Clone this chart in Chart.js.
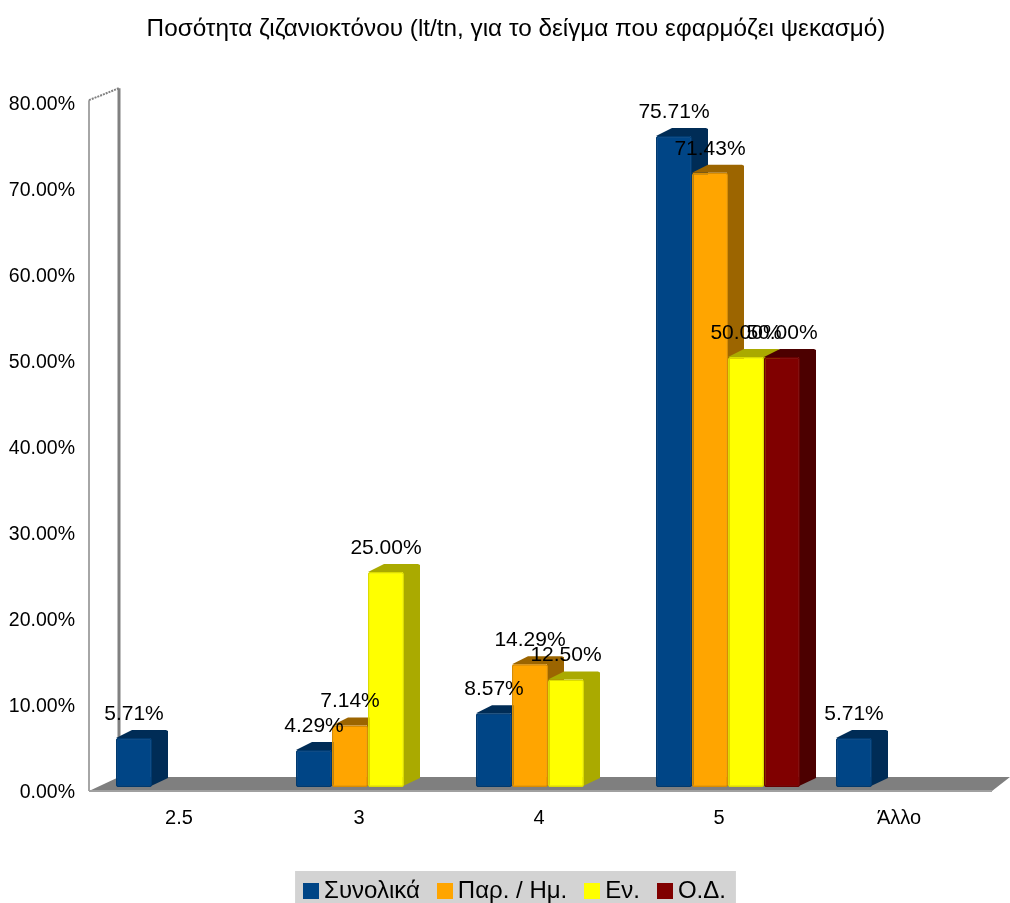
<!DOCTYPE html>
<html><head><meta charset="utf-8">
<style>html,body{margin:0;padding:0;background:#fff;overflow:hidden}canvas{display:block}</style>
<script src="https://cdn.jsdelivr.net/npm/chart.js@4/dist/chart.umd.min.js"></script>
</head><body><canvas id="c" width="1010" height="903"></canvas>
<script>
const chartTitle = "Ποσότητα ζιζανιοκτόνου (lt/tn, για το δείγμα που εφαρμόζει ψεκασμό)";
const categories = ["2.5", "3", "4", "5", "Άλλο"];
const seriesNames = ["Συνολικά", "Παρ. / Ημ.", "Εν.", "Ο.Δ."];
const synolika = [5.71, 4.29, 8.57, 75.71, 5.71];
const parIm = [null, 7.14, 14.29, 71.43, null];
const en = [null, 25.00, 12.50, 50.00, null];
const od = [null, null, null, 50.00, null];
const frontColors = ["#004586", "#ffa500", "#ffff00", "#800000"];
const edgeColors = ["#003a70", "#d98c00", "#dcdc00", "#6a0000"];
const sideColors = ["#002c56", "#9c6500", "#aaaa00", "#4c0000"];
const depthX = 16, depthY = 8;
const legendShift = 19, titleShift = 17;
const fontName = '"Liberation Sans", Arial, sans-serif';

function legendSwatch(color) {
  const s = document.createElement('canvas');
  s.width = 16; s.height = 16;
  const g = s.getContext('2d');
  g.fillStyle = color; g.fillRect(0, 0, 16, 16);
  return s;
}

const scene3d = {
  id: 'scene3d',
  afterLayout(chart) {
    const lg = chart.legend, tb = chart.titleBlock;
    lg.left += legendShift; lg.right += legendShift;
    lg.legendHitBoxes.forEach(h => { h.left += legendShift; });
    tb.left += titleShift; tb.right += titleShift;
  },
  beforeDraw(chart) {
    const lg = chart.legend, hb = lg.legendHitBoxes, ctx = chart.ctx;
    const last = hb[hb.length - 1];
    const l = hb[0].left - 15, r = last.left + last.width + 10;
    ctx.save();
    ctx.fillStyle = '#d3d3d3';
    ctx.fillRect(l, 871, r - l, 32);
    ctx.restore();
  },
  beforeDatasetsDraw(chart) {
    const ctx = chart.ctx, a = chart.chartArea;
    const fl = a.left - 9, fr = a.right - 6, fy = chart.scales.y.getPixelForValue(0) + 4;
    const wallTop = chart.scales.y.getPixelForValue(80) + 1;
    const bx = 30, by = 14;
    ctx.save();
    ctx.strokeStyle = '#a6a6a6'; ctx.lineWidth = 2;
    ctx.beginPath(); ctx.moveTo(fl, fy); ctx.lineTo(fl, wallTop); ctx.stroke();
    ctx.setLineDash([2, 1]);
    ctx.strokeStyle = '#808080';
    ctx.beginPath(); ctx.moveTo(fl, wallTop); ctx.lineTo(fl + bx, wallTop - 12); ctx.stroke();
    ctx.setLineDash([]);
    ctx.lineWidth = 3;
    ctx.beginPath(); ctx.moveTo(fl + bx, wallTop - 12); ctx.lineTo(fl + bx, fy - by); ctx.stroke();
    ctx.fillStyle = '#7f7f7f';
    ctx.beginPath();
    ctx.moveTo(fl, fy); ctx.lineTo(fl + bx, fy - by); ctx.lineTo(1010, fy - by); ctx.lineTo(fr, fy);
    ctx.closePath(); ctx.fill();
    ctx.strokeStyle = '#a0a0a0'; ctx.lineWidth = 2;
    ctx.beginPath(); ctx.moveTo(fl, fy); ctx.lineTo(fr, fy); ctx.stroke();
    ctx.restore();
  },
  afterDatasetsDraw(chart) {
    const ctx = chart.ctx;
    chart.data.datasets.forEach((ds, di) => {
      const meta = chart.getDatasetMeta(di);
      meta.data.forEach((el, i) => {
        if (ds.data[i] == null) return;
        const p = el.getProps(['x', 'y', 'base', 'width'], true);
        const l = p.x - p.width / 2, r = p.x + p.width / 2, t = p.y, b = p.base;
        ctx.save();
        ctx.fillStyle = sideColors[di];
        ctx.beginPath();
        ctx.moveTo(r - 1, b - 1); ctx.lineTo(r + depthX, b - depthY - 1);
        ctx.lineTo(r + depthX, t - depthY + 1); ctx.lineTo(r + depthX - 2, t - depthY);
        ctx.lineTo(l + depthX, t - depthY); ctx.lineTo(l, t);
        ctx.lineTo(r - 1, t); ctx.closePath(); ctx.fill();
        ctx.restore();
        el.draw(ctx);
      });
    });
    ctx.save();
    ctx.font = '21px ' + fontName;
    ctx.fillStyle = '#000';
    ctx.textAlign = 'center'; ctx.textBaseline = 'middle';
    chart.data.datasets.forEach((ds, di) => {
      chart.getDatasetMeta(di).data.forEach((el, i) => {
        if (ds.data[i] == null) return;
        const p = el.getProps(['x', 'y'], true);
        ctx.fillText(ds.data[i].toFixed(2) + '%', p.x, p.y - 24);
      });
    });
    ctx.restore();
  }
};

new Chart(document.getElementById('c'), {
  type: 'bar',
  data: {
    labels: categories,
    datasets: [synolika, parIm, en, od].map((vals, i) => ({
      label: seriesNames[i],
      data: vals,
      backgroundColor: frontColors[i],
      borderColor: edgeColors[i],
      borderWidth: 1.5,
      borderSkipped: false,
      borderRadius: 2,
      categoryPercentage: 0.8,
      barPercentage: 1
    }))
  },
  plugins: [scene3d],
  options: {
    responsive: false,
    animation: false,
    layout: { padding: { left: 0, right: 12, top: 0, bottom: -10 } },
    plugins: {
      title: {
        display: true, text: chartTitle, color: '#000',
        font: { family: fontName, size: 24.3, weight: 'normal' },
        padding: { top: 15, bottom: 55 }
      },
      tooltip: { enabled: false },
      legend: {
        display: true, position: 'bottom',
        labels: {
          color: '#000',
          font: { family: fontName, size: 24 },
          padding: 24,
          usePointStyle: true,
          pointStyleWidth: 2,
          generateLabels(chart) {
            return chart.data.datasets.map((ds, i) => ({
              text: ds.label, fillStyle: frontColors[i], strokeStyle: frontColors[i],
              lineWidth: 0, pointStyle: legendSwatch(frontColors[i]), datasetIndex: i, fontColor: '#000'
            }));
          }
        }
      }
    },
    scales: {
      x: {
        type: 'category',
        grid: { display: false, drawTicks: false }, border: { display: false },
        ticks: { color: '#000', font: { family: fontName, size: 20 }, padding: 19, labelOffset: -9, autoSkip: false, maxRotation: 0 },
        afterFit(s) { s.height = 68; }
      },
      y: {
        min: 0, max: 80,
        grid: { display: false, drawTicks: false }, border: { display: false },
        ticks: {
          color: '#000', font: { family: fontName, size: 19.5 }, padding: 23, stepSize: 10, labelOffset: 5.5, autoSkip: false,
          callback: v => v.toFixed(2) + '%'
        },
        afterFit(s) { s.width = 98; }
      }
    }
  }
});
</script></body></html>
